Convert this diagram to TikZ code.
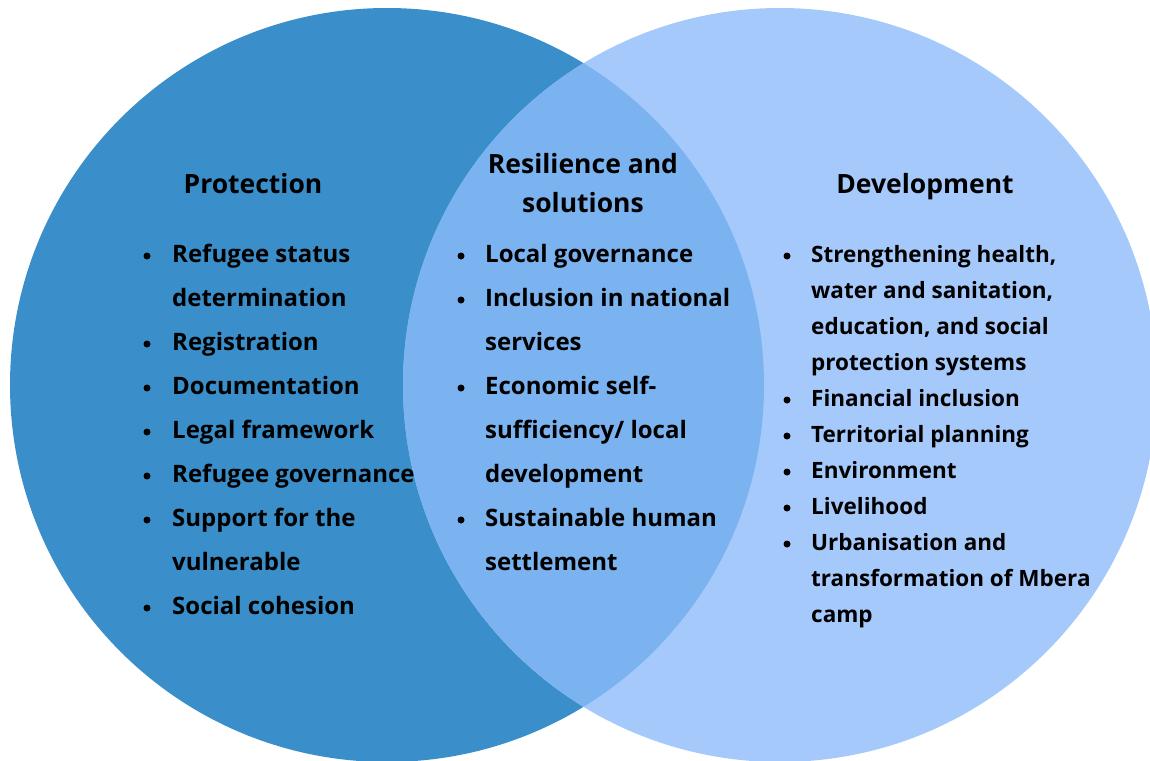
\documentclass[tikz,border=0pt]{standalone}
\usepackage{fontspec}
\setmainfont{Open Sans}
\usetikzlibrary{positioning}

\definecolor{protblue}{HTML}{3A8FCB}
\definecolor{devblue}{HTML}{A6C9FC}
\definecolor{midblue}{HTML}{7AB3F0}

\tikzset{
  head/.style={font=\fontsize{26.5}{30}\selectfont\bfseries, inner sep=0pt, anchor=base},
  itm/.style={font=\fontsize{24}{28}\selectfont\bfseries, inner sep=0pt, anchor=base west},
  ditm/.style={itm, font=\fontsize{22.5}{28}\selectfont\bfseries},
  dot/.style={circle, fill=black, inner sep=0pt, minimum size=7pt}
}

\begin{document}
\begin{tikzpicture}[x=1pt, y=-1pt]
        \useasboundingbox (0,0) rectangle (1150,760);
        \clip (0,0) rectangle (1150,760);
        \coordinate (L) at (387,385);
        \coordinate (R) at (780,385);

        % the two circles and their overlap
        \fill[protblue] (L) circle (377pt);
        \fill[devblue] (R) circle (377pt);
        \begin{scope}
            \clip (L) circle (377pt);
            \fill[midblue] (R) circle (377pt);
        \end{scope}

        \node[head] (prot) at (253,193) {Protection};
        \node[head] (res1) at (583,173) {Resilience and};
        \node[head] (res2) at (583,212) {solutions};
        \node[head] (dev) at (925,193) {Development};

        % left list
        \foreach \t/\b [count=\i] in {Refugee status/1, determination/0, Registration/1, Documentation/1, Legal framework/1, Refugee governance/1, Support for the/1, vulnerable/0, Social cohesion/1}{
            \node[itm] (p\i) at (172,{262+44*(\i-1)}) {\t};
            \ifnum\b=1 \node[dot] (pd\i) at (147,{256+44*(\i-1)}) {};\fi
        }

        % middle list
        \foreach \t/\b [count=\i] in {Local governance/1, Inclusion in national/1, services/0, Economic self-/1, {sufficiency/ local}/0, development/0, Sustainable human/1, settlement/0}{
            \node[itm] (r\i) at (485,{262+44*(\i-1)}) {\t};
            \ifnum\b=1 \node[dot] (rd\i) at (461,{256+44*(\i-1)}) {};\fi
        }

        % right list
        \foreach \t/\b [count=\i] in {{Strengthening health,}/1, {water and sanitation,}/0, {education, and social}/0, protection systems/0, Financial inclusion/1, Territorial planning/1, Environment/1, Livelihood/1, Urbanisation and/1, transformation of Mbera/0, camp/0}{
            \node[ditm] (d\i) at (811,{262+36*(\i-1)}) {\t};
            \ifnum\b=1 \node[dot] (dd\i) at (787,{256+36*(\i-1)}) {};\fi
        }
    \end{tikzpicture}
\end{document}
